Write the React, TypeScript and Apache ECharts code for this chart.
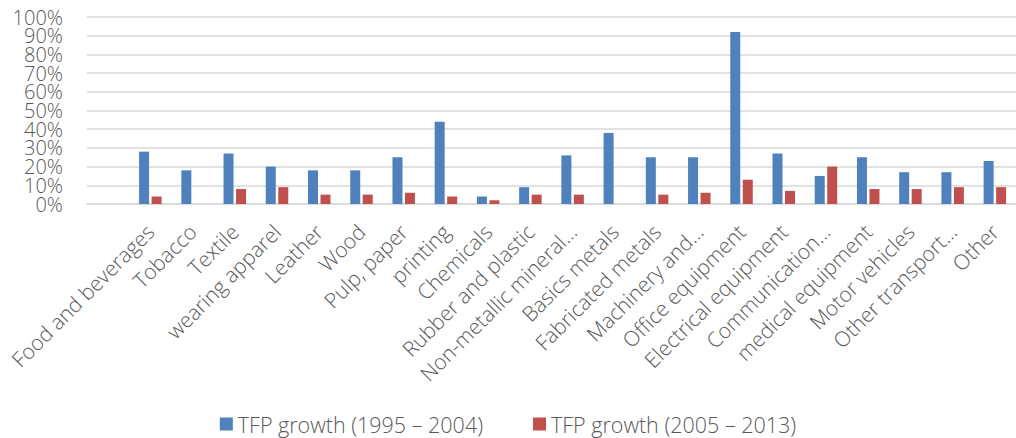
import React, { useEffect, useRef } from "react";
import * as echarts from "echarts";

const categories = [
  "",
  "Food and beverages",
  "Tobacco",
  "Textile",
  "wearing apparel",
  "Leather",
  "Wood",
  "Pulp, paper",
  "printing",
  "Chemicals",
  "Rubber and plastic",
  "Non-metallic mineral…",
  "Basics metals",
  "Fabricated metals",
  "Machinery and…",
  "Office equipment",
  "Electrical equipment",
  "Communication…",
  "medical equipment",
  "Motor vehicles",
  "Other transport…",
  "Other",
];

const tfp1995_2004 = [null, 28, 18, 27, 20, 18, 18, 25, 44, 4, 9, 26, 38, 25, 25, 92, 27, 15, 25, 17, 17, 23];
const tfp2005_2013 = [null, 4, 0, 8, 9, 5, 5, 6, 4, 2, 5, 5, 0, 5, 6, 13, 7, 20, 8, 8, 9, 9];

const seriesNames = ["TFP growth (1995 – 2004)", "TFP growth (2005 – 2013)"];

const FONT = "'Open Sans', 'Liberation Sans', sans-serif";
const TEXT = "#595959";

const yLabelBase = {
  fontSize: 20,
  lineHeight: 18,
  margin: 24,
  color: TEXT,
  fontFamily: FONT,
  fontWeight: 300,
};

export default function App() {
  const ref = useRef<HTMLDivElement>(null);
  useEffect(() => {
    if (!ref.current) return;
    const chart = echarts.init(ref.current, undefined, { renderer: "svg" });
    chart.setOption({
      animation: false,
      textStyle: { fontFamily: FONT },
      grid: { left: 87, right: -7, top: 17, bottom: 234, containLabel: false },
      legend: {
        data: seriesNames,
        left: "center",
        top: 408,
        itemWidth: 13,
        itemHeight: 13,
        itemGap: 50,
        icon: "rect",
        textStyle: { fontSize: 21.5, color: TEXT, fontFamily: FONT, fontWeight: 300 },
      },
      xAxis: {
        type: "category",
        data: categories,
        axisLine: { show: true, lineStyle: { color: "#D9D9D9", width: 1.5 } },
        axisTick: { show: false },
        axisLabel: {
          interval: 0,
          rotate: 45,
          margin: 24,
          fontSize: 21,
          color: TEXT,
          fontFamily: FONT,
          fontWeight: 300,
        },
      },
      yAxis: [
        {
          type: "value",
          position: "left",
          min: 0,
          max: 100,
          interval: 20,
          axisLine: { show: false },
          axisTick: { show: false },
          splitLine: { show: false },
          axisLabel: {
            ...yLabelBase,
            formatter: "{value}%",
            showMinLabel: true,
            showMaxLabel: true,
          },
        },
        {
          type: "value",
          position: "left",
          offset: 0,
          min: 0,
          max: 100,
          interval: 10,
          axisLine: { show: false },
          axisTick: { show: false },
          splitLine: { show: true, lineStyle: { color: "#D9D9D9", width: 1.5 } },
          axisLabel: {
            ...yLabelBase,
            showMinLabel: false,
            showMaxLabel: false,
            hideOverlap: false,
            formatter: (v: number) => (Math.round(v) % 20 === 10 ? `${v}%` : ""),
          },
        },
      ],
      series: [
        {
          name: seriesNames[0],
          type: "bar",
          yAxisIndex: 0,
          data: tfp1995_2004,
          barWidth: 10,
          barGap: "25%",
          itemStyle: { color: "#4F81BD" },
        },
        {
          name: seriesNames[1],
          type: "bar",
          yAxisIndex: 0,
          data: tfp2005_2013,
          barWidth: 10,
          itemStyle: { color: "#C0504D" },
        },
      ],
    });
    return () => chart.dispose();
  }, []);
  return (
    <div
      ref={ref}
      style={{ position: "absolute", left: 0, top: 0, width: 1016, height: 438 }}
    />
  );
}
